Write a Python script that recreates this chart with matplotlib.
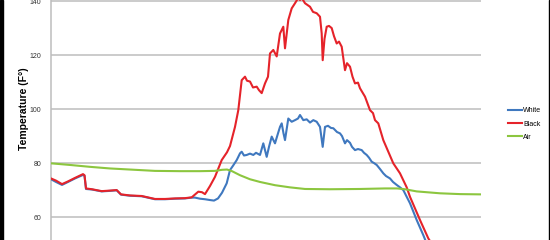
import matplotlib.pyplot as plt
from matplotlib.patches import Rectangle

# time axis in plot units (0 = left edge of plot area)
t_red = [0, 5, 11, 17, 24, 32, 33.5, 35, 41, 50.7, 59, 65.7, 70, 79, 90.7, 104, 114, 124, 134,
         140.7, 147.3, 151, 154, 159, 164, 170.7, 176, 179, 184, 187.3, 190.7, 194, 196, 199,
         202, 205.7, 208, 210.7, 214, 217, 219, 222.3, 225.7, 229, 232.3, 234, 237.3, 240.7,
         244, 247, 249, 251, 254, 259, 262, 265.7, 269, 270.7, 271.7, 273.5, 275.7, 278,
         280.7, 283, 285.7, 288, 290.7, 294, 296, 299, 301.5, 304, 307, 309, 314, 319, 322,
         324, 327.3, 332.3, 337.3, 342.3, 349, 355.7, 359, 369, 377.3, 381]
red = [74.3, 73.5, 72.2, 73.2, 74.5, 75.9, 75.5, 70.6, 70.3, 69.6, 69.8, 70.0, 68.4, 68.0, 67.8,
       66.7, 66.7, 66.9, 67.0, 67.3, 69.4, 69.2, 68.5, 71.5, 74.9, 81.1, 84.0, 86.3, 93.4, 99.6,
       110.7, 112.0, 110.5, 110.2, 108.0, 108.3, 107.0, 105.9, 109.5, 112.0, 120.6, 121.9, 119.5,
       128.0, 130.5, 122.5, 133.0, 137.3, 139.2, 141.0, 140.4, 141.0, 139.2, 137.9, 136.0, 135.5,
       134.2, 128.0, 118.1, 126.0, 130.5, 130.8, 130.0, 127.0, 124.3, 125.0, 123.1, 114.4, 117.0,
       115.7, 112.0, 109.5, 109.8, 107.7, 104.6, 99.6, 98.5, 95.9, 94.7, 88.5, 84.2, 79.9, 76.2,
       71.0, 67.5, 58.9, 52.1, 50.0]

t_white = [0, 5, 11, 17, 24, 32, 33.5, 35, 41, 50.7, 59, 65.7, 70, 79, 90.7, 104, 114, 124, 134,
           140.7, 144, 149, 154, 159, 163, 167, 171, 175.7, 179, 182, 185.7, 187.3, 189, 190.7,
           193, 195.7, 199, 202.3, 205, 209, 212.3, 215.7, 218, 220.7, 224, 227, 229, 230.7,
           232.5, 234, 237.3, 240.7, 244, 247, 249, 252.3, 255.7, 259, 262.3, 265.7, 269, 271.7,
           274, 277, 280, 282.3, 286, 289, 291, 294, 296, 299, 301, 304, 307, 310.7, 313, 315.7,
           318, 320.7, 323, 325.7, 329, 332.3, 335, 339, 342, 345.7, 349, 352.3, 355.7, 359,
           365.7, 372.3, 377]
white = [74.0, 73.0, 71.9, 73.0, 74.3, 75.6, 75.3, 70.4, 70.2, 69.5, 69.7, 69.9, 68.3, 67.9, 67.7,
         66.6, 66.6, 66.8, 66.9, 67.2, 67.2, 66.8, 66.6, 66.3, 66.1, 66.9, 69.0, 72.5, 77.4, 79.0,
         81.1, 82.3, 83.6, 84.2, 82.8, 83.0, 83.5, 83.0, 83.8, 83.0, 87.3, 82.3, 86.0, 89.8, 87.3,
         91.0, 93.4, 94.7, 91.0, 88.5, 96.5, 95.3, 95.9, 96.5, 97.8, 95.9, 96.2, 95.0, 95.9, 95.3,
         93.4, 86.0, 93.4, 93.8, 93.0, 92.9, 91.5, 91.0, 90.0, 87.3, 88.5, 87.5, 86.0, 84.8, 85.2,
         84.8, 83.8, 83.0, 82.0, 80.5, 80.0, 79.3, 77.8, 76.2, 75.2, 74.3, 73.0, 71.9, 71.0, 70.0,
         67.5, 65.1, 58.9, 53.3, 49.0]

t_air = [0, 19, 39, 59, 79, 104, 129, 149, 164, 171, 176, 181, 189, 199, 209, 224, 239, 254, 279,
         309, 334, 346, 354, 365.7, 389, 409, 430]
air = [79.9, 79.3, 78.6, 78.0, 77.6, 77.1, 77.0, 77.0, 77.1, 77.5, 77.6, 77.0, 75.5, 74.0, 73.0,
       71.8, 71.0, 70.4, 70.3, 70.4, 70.6, 70.6, 70.3, 69.5, 68.8, 68.5, 68.4]

y_ticks = [60, 80, 100, 120, 140]

fig = plt.figure(figsize=(5.5, 2.4), dpi=100)
ax = fig.add_axes([51 / 550, 0, 430 / 550, 1])

ax.plot(t_white, white, color='#3f78bf', lw=1.5, label='White', zorder=3)
ax.plot(t_red, red, color='#e5232a', lw=1.5, label='Black', zorder=4)
ax.plot(t_air, air, color='#8cc63f', lw=1.5, label='Air', zorder=5)

ax.set_xlim(0, 430)
ax.set_ylim(51.5, 140.4)
ax.set_yticks(y_ticks)
ax.set_xticks([])
ax.grid(axis='y', color='#bdbdbd', lw=1.1)
ax.set_axisbelow(True)
for s in ['top', 'right', 'bottom']:
    ax.spines[s].set_visible(False)
ax.spines['left'].set_color('#bdbdbd')
ax.spines['left'].set_linewidth(1.1)
ax.tick_params(axis='y', length=0, pad=7, labelsize=5, labelcolor='#333333')
for lbl in ax.get_yticklabels():
    lbl.set_family('Liberation Sans')

fig.text(24 / 550, 1 - 108.5 / 240, 'Temperature (F°)', rotation=90, ha='center', va='center',
         fontsize=7.5, fontweight='bold', family='Liberation Sans')

fig.legend(loc='center left', bbox_to_anchor=(505 / 550, 1 - 124 / 240), frameon=False,
           prop={'family': 'Liberation Sans', 'size': 5}, handlelength=2.1,
           handletextpad=0.1, labelspacing=0.9, borderaxespad=0)

# dark frame edges from the screenshot
fig.patches.append(Rectangle((0, 0), 3 / 550, 1, transform=fig.transFigure, color='black'))
fig.patches.append(Rectangle((549 / 550, 0), 1 / 550, 1, transform=fig.transFigure, color='black'))

fig.savefig('out.png', dpi=100)
